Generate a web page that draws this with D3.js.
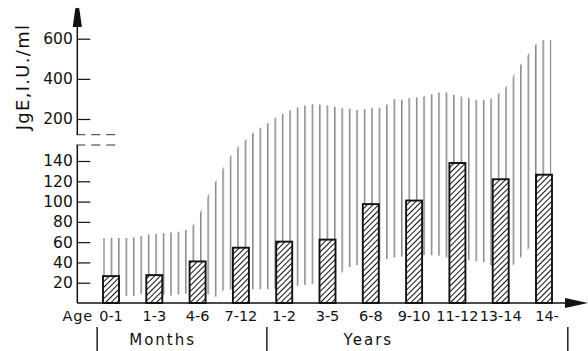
<!DOCTYPE html>
<html><head><meta charset="utf-8">
<script src="https://cdn.jsdelivr.net/npm/d3@7"></script>
<style>
html,body{margin:0;padding:0;background:#fff;}
svg{display:block;}
text{font-family:"DejaVu Sans",sans-serif;fill:#111;}
</style></head><body>
<svg id="chart" width="588" height="351"></svg>
<script>
// ---- data ----
const categories = ["0-1","1-3","4-6","7-12","1-2","3-5","6-8","9-10","11-12","13-14","14-"];
const meanIgE = [26.5, 27.5, 41, 54.5, 60.5, 62.5, 97.5, 101, 138, 122, 126.5];
// range band (position in category units, upper and lower limit in IU/ml)
const rangePos = [-0.18,0.39,0.57,0.76,1.29,1.46,1.64,1.82,1.99,2.15,2.31,2.47,2.63,2.82,2.98,3.14,3.33,3.49,3.65,3.83,4.02,4.20,4.36,4.55,4.71,4.90,5.07,5.25,5.40,5.56,5.73,5.89,6.06,6.21,6.38,6.52,6.69,6.87,7.02,7.18,7.35,7.52,7.67,7.83,7.98,8.14,8.29,8.45,8.60,8.75,8.91,9.06,9.21,9.37,9.52,9.68,9.85,10.0,10.17];
const rangeHigh = [64,64,65,67,69,70,71,74,83,98,112,124,136,152,163,172,183,189,195,211,231,250,261,271,275,270,266,256,253,250,245,250,256,256,273,300,295,303,306,311,320,328,336,328,315,311,303,295,295,300,320,348,386,444,489,535,580,593,593];
const rangeLow = [7,7,7,9.5,8,7,9.5,9,9,9,8,6,13.5,13,13,13.5,13.5,13.5,13.5,14,15,16,17.5,18,19.5,21,23,26,33,36,38,40,41,42,43.5,44.5,45.5,46,46.5,47,47,47,45.5,44,43.5,43,42.5,41,40.5,37.5,36.5,36,36,40.5,48,55,58,60,61];
const lowerTicks = [20,40,60,80,100,120,140];
const upperTicks = [200,400,600];
const groupLabels = ["Months","Years"];
const groupCenters = [1.17, 5.92];
const groupBounds = [-0.32, 3.6, 10.55];
const yLabel = "JgE,I.U./ml";
const xLead = "Age";

// ---- layout ----
const svg = d3.select("#chart");
const x = d3.scaleLinear().domain([0, categories.length - 1]).range([111, 544]);
const y = d3.scaleLinear().domain([0, 140, 200, 600]).range([303, 161, 119, 38.7]);
const axisX = 77.3, baseY = y(0);
const upperAxisBottom = 134.7, lowerAxisTop = 145, axisTop = 26.5;
const barW = 16, hatchStep = 7.445;

const defs = svg.append("defs");
const vp = defs.append("pattern").attr("id","vhatch").attr("patternUnits","userSpaceOnUse")
  .attr("x", x(rangePos[0])).attr("y",0).attr("width",hatchStep).attr("height",10);
vp.append("line").attr("x1",0.8).attr("x2",0.8).attr("y1",-1).attr("y2",11)
  .attr("stroke","#555").attr("stroke-width",1.05);
const dp = defs.append("pattern").attr("id","dhatch").attr("patternUnits","userSpaceOnUse")
  .attr("width",4).attr("height",4).attr("patternTransform","rotate(45)");
dp.append("line").attr("x1",0.5).attr("x2",0.5).attr("y1",-1).attr("y2",5)
  .attr("stroke","#111").attr("stroke-width",1);

// range band
const area = d3.area()
  .x((d,i) => x(rangePos[i]))
  .y0((d,i) => y(rangeLow[i]))
  .y1((d,i) => y(rangeHigh[i]))
  .curve(d3.curveMonotoneX);
svg.append("path").datum(rangePos).attr("d", area).attr("fill","url(#vhatch)");

// bars
const bars = svg.append("g").selectAll("g").data(meanIgE).join("g");
bars.append("rect").attr("x",(d,i)=>x(i)-barW/2).attr("y",d=>y(d))
  .attr("width",barW).attr("height",d=>baseY-y(d)).attr("fill","#fff");
bars.append("rect").attr("x",(d,i)=>x(i)-barW/2).attr("y",d=>y(d))
  .attr("width",barW).attr("height",d=>baseY-y(d))
  .attr("fill","url(#dhatch)").attr("stroke","#111").attr("stroke-width",1.9);

// y axis
function yAxis(ticks){
  const g = svg.append("g").attr("transform",`translate(${axisX},0)`)
    .call(d3.axisLeft(y).tickValues(ticks).tickSizeInner(-13).tickSizeOuter(0).tickPadding(4.5));
  g.select(".domain").remove();
  g.selectAll(".tick line").attr("stroke","#111").attr("stroke-width",1.2);
  g.selectAll(".tick text").attr("font-size",15.5).attr("font-family","DejaVu Sans").attr("fill","#111");
}
yAxis(lowerTicks);
yAxis(upperTicks);
svg.append("line").attr("x1",axisX).attr("x2",axisX).attr("y1",axisTop).attr("y2",upperAxisBottom)
  .attr("stroke","#111").attr("stroke-width",1.5);
svg.append("line").attr("x1",axisX).attr("x2",axisX).attr("y1",lowerAxisTop).attr("y2",baseY)
  .attr("stroke","#111").attr("stroke-width",1.5);
[upperAxisBottom, lowerAxisTop].forEach(yy=>{
  svg.append("line").attr("x1",axisX-1).attr("x2",118).attr("y1",yy).attr("y2",yy)
    .attr("stroke","#333").attr("stroke-width",1).attr("stroke-dasharray","9,6");
});
svg.append("path").attr("d",`M${axisX-4.6},${axisTop+0.5}L${axisX+4.6},${axisTop+0.5}L${axisX+2},8.5Q${axisX},7 ${axisX-2},8.5Z`).attr("fill","#111");

// x axis
svg.append("line").attr("x1",axisX).attr("x2",566).attr("y1",baseY).attr("y2",baseY)
  .attr("stroke","#111").attr("stroke-width",1.5);
svg.append("path").attr("d",`M565,${baseY-5}L588,${baseY}L565,${baseY+5}Z`).attr("fill","#111");

// category labels
svg.append("g").selectAll("text").data(categories).join("text")
  .attr("x",(d,i)=>x(i) + (i === categories.length-1 ? 3 : 0)).attr("y",321).attr("text-anchor","middle")
  .attr("font-size",14.5).text(d=>d);
svg.append("text").attr("x",93).attr("y",321).attr("text-anchor","end")
  .attr("font-size",14.5).attr("letter-spacing",0.8).text(xLead);

// group separators and labels
svg.append("g").selectAll("line").data(groupBounds).join("line")
  .attr("x1",d=>x(d)).attr("x2",d=>x(d)).attr("y1",327).attr("y2",351)
  .attr("stroke","#111").attr("stroke-width",1.4);
svg.append("g").selectAll("text").data(groupLabels).join("text")
  .attr("x",(d,i)=>x(groupCenters[i])+1).attr("y",345).attr("text-anchor","middle")
  .attr("font-size",15).attr("letter-spacing",2).text(d=>d);

// y label
svg.append("text").attr("transform","translate(29,77) rotate(-90)")
  .attr("text-anchor","middle").attr("font-size",18).attr("letter-spacing",1.3).text(yLabel);
</script>
</body></html>
